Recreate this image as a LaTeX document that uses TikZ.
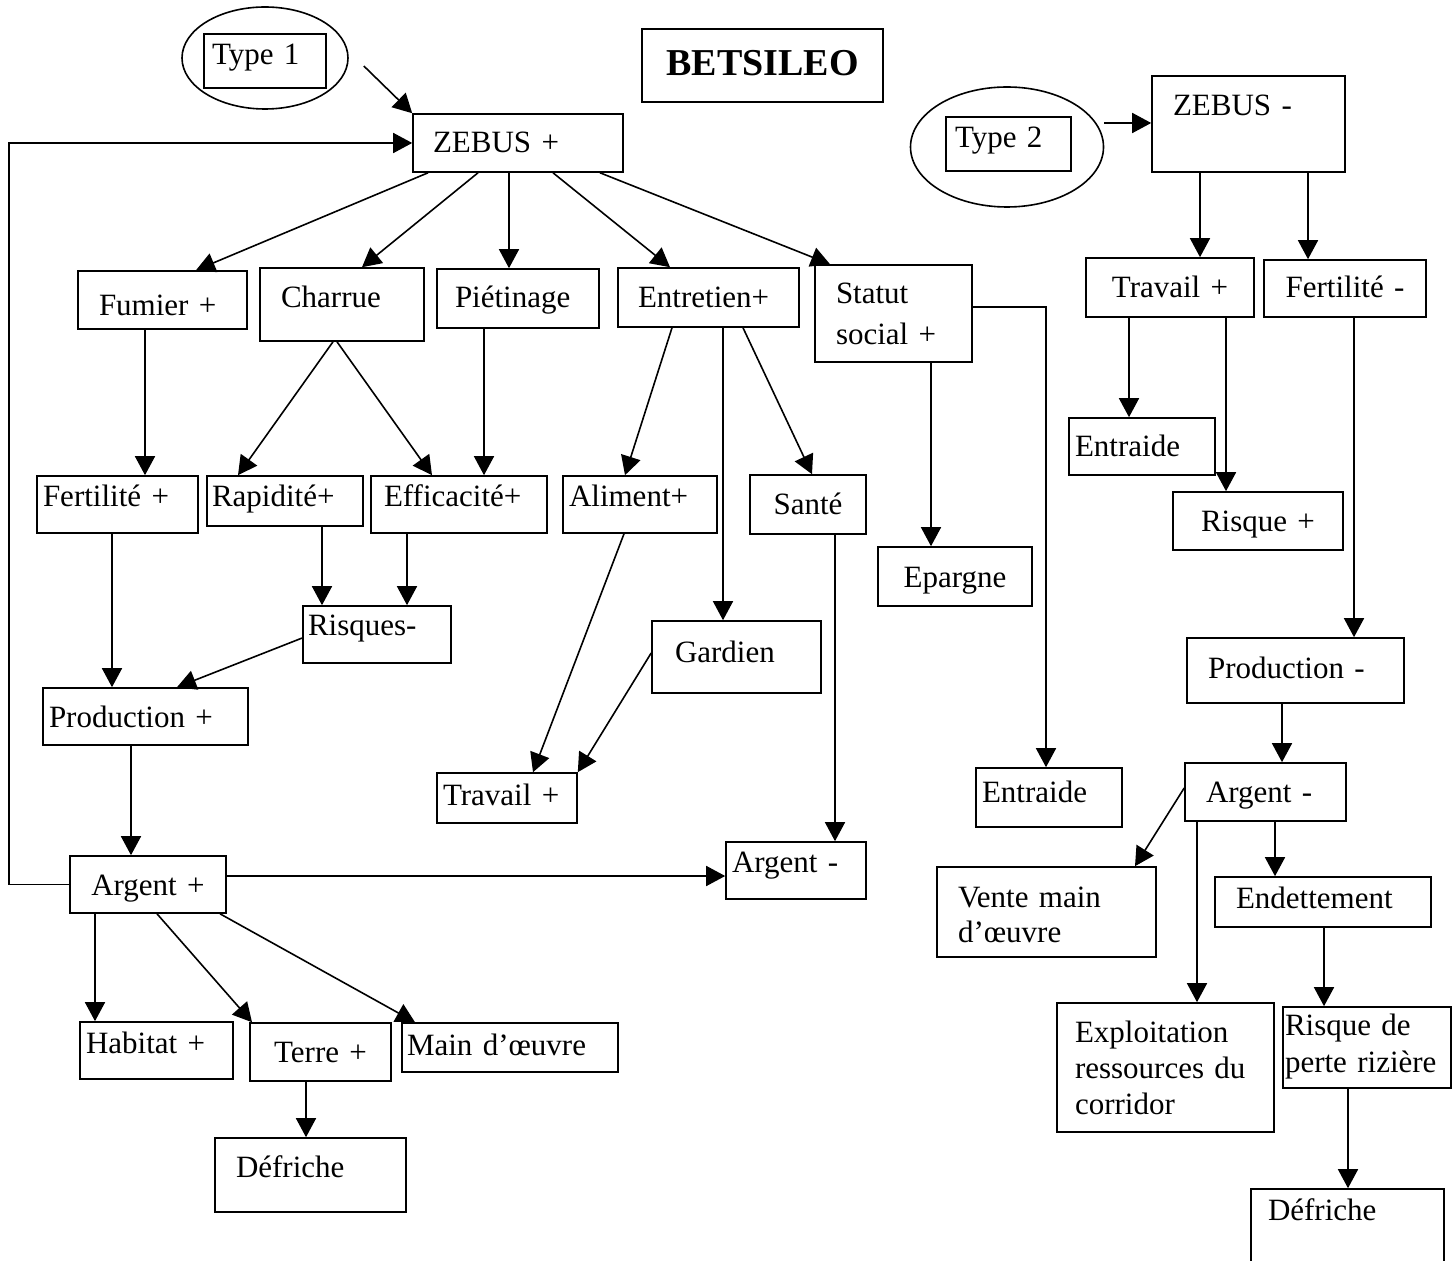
\documentclass[tikz,border=0pt]{standalone}
\usepackage{fontspec}
\setmainfont{Liberation Serif}
\usetikzlibrary{arrows.meta,shapes.geometric}

\begin{document}
\begin{tikzpicture}[x=0.5pt, y=-0.5pt,
  font=\fontsize{15.5}{18.5}\selectfont,
  box/.style={draw, line width=0.8pt, inner sep=0pt, align=left},
  sz/.style n args={5}{minimum width=#1pt, minimum height=#2pt, text width=#3pt, text height=#4pt, text depth=#5pt},
  oval/.style={draw, ellipse, line width=0.8pt, inner sep=0pt},
  arr/.style={line width=0.8pt, -{Triangle[length=9.5pt, width=10pt]}}]
  \useasboundingbox[fill=white] (0,0) rectangle (1456,1261);

  % Type 1 (left side)
  \node[oval, minimum width=83pt, minimum height=51pt] (e1) at (265,58) {};
  \node[box, sz={61}{27}{53}{15.5}{11.5}] (t1) at (265,61) {Type 1};
  \node[box, align=center, font=\fontsize{19}{22}\selectfont\bfseries, sz={120.5}{36.5}{120.5}{23.5}{13}] (bet) at (762.5,65.5) {BETSILEO};
  \node[box, sz={105}{29}{85}{19.5}{9.5}] (zp) at (518,143) {ZEBUS +};
  % first row
  \node[box, sz={84.5}{29}{63.5}{22.5}{6.5}] (fum) at (162.5,300) {Fumier +};
  \node[box, sz={82}{36.5}{61}{20}{16.5}] (cha) at (342,304.5) {Charrue};
  \node[box, sz={81}{29.5}{63}{19.5}{10}] (pie) at (518,298.5) {Piétinage};
  \node[box, sz={90.5}{29.5}{70.5}{20}{9.5}] (ent) at (708.5,297.5) {Entretien+};
  \node[box, font=\fontsize{15.5}{20.5}\selectfont, sz={78.5}{48.5}{57.5}{19.5}{29}] (sta) at (893.5,313.5) {Statut\\social +};
  % second row
  \node[box, sz={80.5}{28.5}{74.5}{15.5}{13}] (fe1) at (117.5,504.5) {Fertilité +};
  \node[box, sz={78}{25}{73}{15.5}{9.5}] (rap) at (285,501) {Rapidité+};
  \node[box, sz={88}{28.5}{75}{15.5}{13}] (eff) at (459,504.5) {Efficacité+};
  \node[box, sz={77}{28.5}{71}{15.5}{13}] (ali) at (640,504.5) {Aliment+};
  \node[box, align=center, sz={58}{29.5}{58}{20}{9.5}] (san) at (808,504.5) {Santé};
  \node[box, align=center, sz={77}{29.5}{77}{20.5}{9}] (epa) at (955,576.5) {Epargne};
  \node[box, sz={74}{28.5}{69}{14.5}{14}] (ris) at (377,634.5) {Risques-};
  \node[box, sz={84.5}{36}{61.5}{20.5}{15.5}] (gar) at (736.5,657) {Gardien};
  \node[box, sz={102.5}{28.5}{96.5}{19.5}{9}] (pr1) at (145.5,716.5) {Production +};
  \node[box, sz={70}{25}{64}{16}{9}] (tr1) at (507,798) {Travail +};
  \node[box, align=center, sz={78}{28.5}{78}{19.5}{9}] (ar1) at (148,884.5) {Argent +};
  \node[box, sz={70}{28.5}{64}{15}{13.5}] (am) at (796,870.5) {Argent -};
  % bottom row
  \node[box, sz={76.5}{28.5}{70.5}{15.5}{13}] (hab) at (156.5,1050.5) {Habitat +};
  \node[box, align=center, sz={70.5}{29}{70.5}{19.5}{9.5}] (ter) at (320.5,1052) {Terre +};
  \node[box, sz={108}{24.5}{103}{16}{8.5}] (mai) at (510,1047.5) {Main d’œuvre};
  \node[box, sz={95.5}{37}{74.5}{19.5}{17.5}] (df1) at (310.5,1175) {Défriche};

  % Type 2 (right side)
  \node[oval, minimum width=96.5pt, minimum height=60pt] (e2) at (1007,147) {};
  \node[box, sz={62.5}{27}{53.5}{15.5}{11.5}] (t2) at (1008.5,144) {Type 2};
  \node[box, sz={96.5}{48}{75.5}{20}{28}] (zm) at (1248.5,124) {ZEBUS -};
  \node[box, align=center, sz={84}{29.5}{84}{20}{9.5}] (tr2) at (1170,287.5) {Travail +};
  \node[box, align=center, sz={81}{28.5}{81}{19}{9.5}] (fe2) at (1345,288.5) {Fertilité -};
  \node[box, sz={73}{28.5}{67}{19.5}{9}] (en1) at (1142,446.5) {Entraide};
  \node[box, align=center, sz={85}{29}{85}{20}{9}] (rq) at (1258,521) {Risque +};
  \node[box, sz={108.5}{32.5}{87.5}{20}{12.5}] (pr2) at (1295.5,670.5) {Production -};
  \node[box, sz={73}{29.5}{67}{17}{12.5}] (en2) at (1049,797.5) {Entraide};
  \node[box, sz={80.5}{29}{59.5}{19.5}{9.5}] (ar2) at (1265.5,792) {Argent -};
  \node[box, font=\fontsize{15.5}{17.5}\selectfont, sz={109.5}{45}{88.5}{20}{25}] (ven) at (1046.5,912) {Vente main\\d’œuvre};
  \node[box, sz={108}{25}{87}{15.5}{9.5}] (det) at (1323,902) {Endettement};
  \node[box, font=\fontsize{15.5}{18}\selectfont, sz={108.5}{64.5}{90.5}{19.5}{45}] (exl) at (1165.5,1067.5) {Exploitation\\ressources du\\corridor};
  \node[box, sz={84}{40.5}{82}{14}{26.5}] (rp) at (1367,1047.5) {Risque de\\perte rizière};
  \node[box, sz={96.5}{43}{79.5}{15.5}{27.5}] (df2) at (1347.5,1232) {Défriche};

  % links, type 1
  \draw[arr] ([shift={(15,8)}]e1.east) -- (zp.north west);
  \draw[arr] (ar1.west) -- ++(-60,0) |- (zp.west);
  \draw[arr] (zp.south -| 428,0) -- (fum.north -| 196,0);
  \draw[arr] (zp.south -| 478,0) -- (cha.north -| 362,0);
  \draw[arr] (zp.south -| 509,0) -- (pie.north -| 509,0);
  \draw[arr] (zp.south -| 553,0) -- (ent.north -| 670,0);
  \draw[arr] (zp.south -| 600,0) -- (sta.north -| 830,0);
  \draw[arr] (fum.south -| 145,0) -- (fe1.north -| 145,0);
  \draw[arr] (cha.south -| 333,0) -- (rap.north -| 238,0);
  \draw[arr] (cha.south -| 337,0) -- (eff.north -| 432,0);
  \draw[arr] (pie.south -| 484,0) -- (eff.north -| 484,0);
  \draw[arr] (ent.south -| 672,0) -- (ali.north -| 625,0);
  \draw[arr] (ent.south -| 723,0) -- (gar.north -| 723,0);
  \draw[arr] (ent.south -| 743,0) -- (san.north -| 812,0);
  \draw[arr] (sta.south -| 931,0) -- (epa.north -| 931,0);
  \draw[arr] (sta.east |- 0,307) -| (en2.north -| 1046,0);
  \draw[arr] (fe1.south -| 112,0) -- (pr1.north -| 112,0);
  \draw[arr] (rap.south -| 322,0) -- (ris.north -| 322,0);
  \draw[arr] (eff.south -| 407,0) -- (ris.north -| 407,0);
  \draw[arr] (ris.west |- 0,638) -- (pr1.north -| 177,0);
  \draw[arr] (pr1.south -| 131,0) -- (ar1.north -| 131,0);
  \draw[arr] (ali.south -| 624,0) -- (tr1.north -| 533,0);
  \draw[arr] (gar.west |- 0,653) -- (tr1.north east);
  \draw[arr] (san.south -| 835,0) -- (am.north -| 835,0);
  \draw[arr] (ar1.east |- 0,876) -- (am.west |- 0,876);
  \draw[arr] (ar1.south -| 95,0) -- (hab.north -| 95,0);
  \draw[arr] (ar1.south -| 157,0) -- (ter.north -| 252,0);
  \draw[arr] (ar1.south -| 220,0) -- (mai.north -| 415,0);
  \draw[arr] (ter.south -| 306,0) -- (df1.north -| 306,0);
  % links, type 2
  \draw[arr] (e2.east |- 0,123) -- (zm.west |- 0,123);
  \draw[arr] (zm.south -| 1200,0) -- (tr2.north -| 1200,0);
  \draw[arr] (zm.south -| 1308,0) -- (fe2.north -| 1308,0);
  \draw[arr] (tr2.south -| 1129,0) -- (en1.north -| 1129,0);
  \draw[arr] (tr2.south -| 1226,0) -- (rq.north -| 1226,0);
  \draw[arr] (fe2.south -| 1354,0) -- (pr2.north -| 1354,0);
  \draw[arr] (pr2.south -| 1282,0) -- (ar2.north -| 1282,0);
  \draw[arr] (ar2.west |- 0,788) -- (ven.north -| 1135,0);
  \draw[arr] (ar2.south -| 1275,0) -- (det.north -| 1275,0);
  \draw[arr] (ar2.south -| 1197,0) -- (exl.north -| 1197,0);
  \draw[arr] (det.south -| 1324,0) -- (rp.north -| 1324,0);
  \draw[arr] (rp.south -| 1348,0) -- (df2.north -| 1348,0);
\end{tikzpicture}
\end{document}
